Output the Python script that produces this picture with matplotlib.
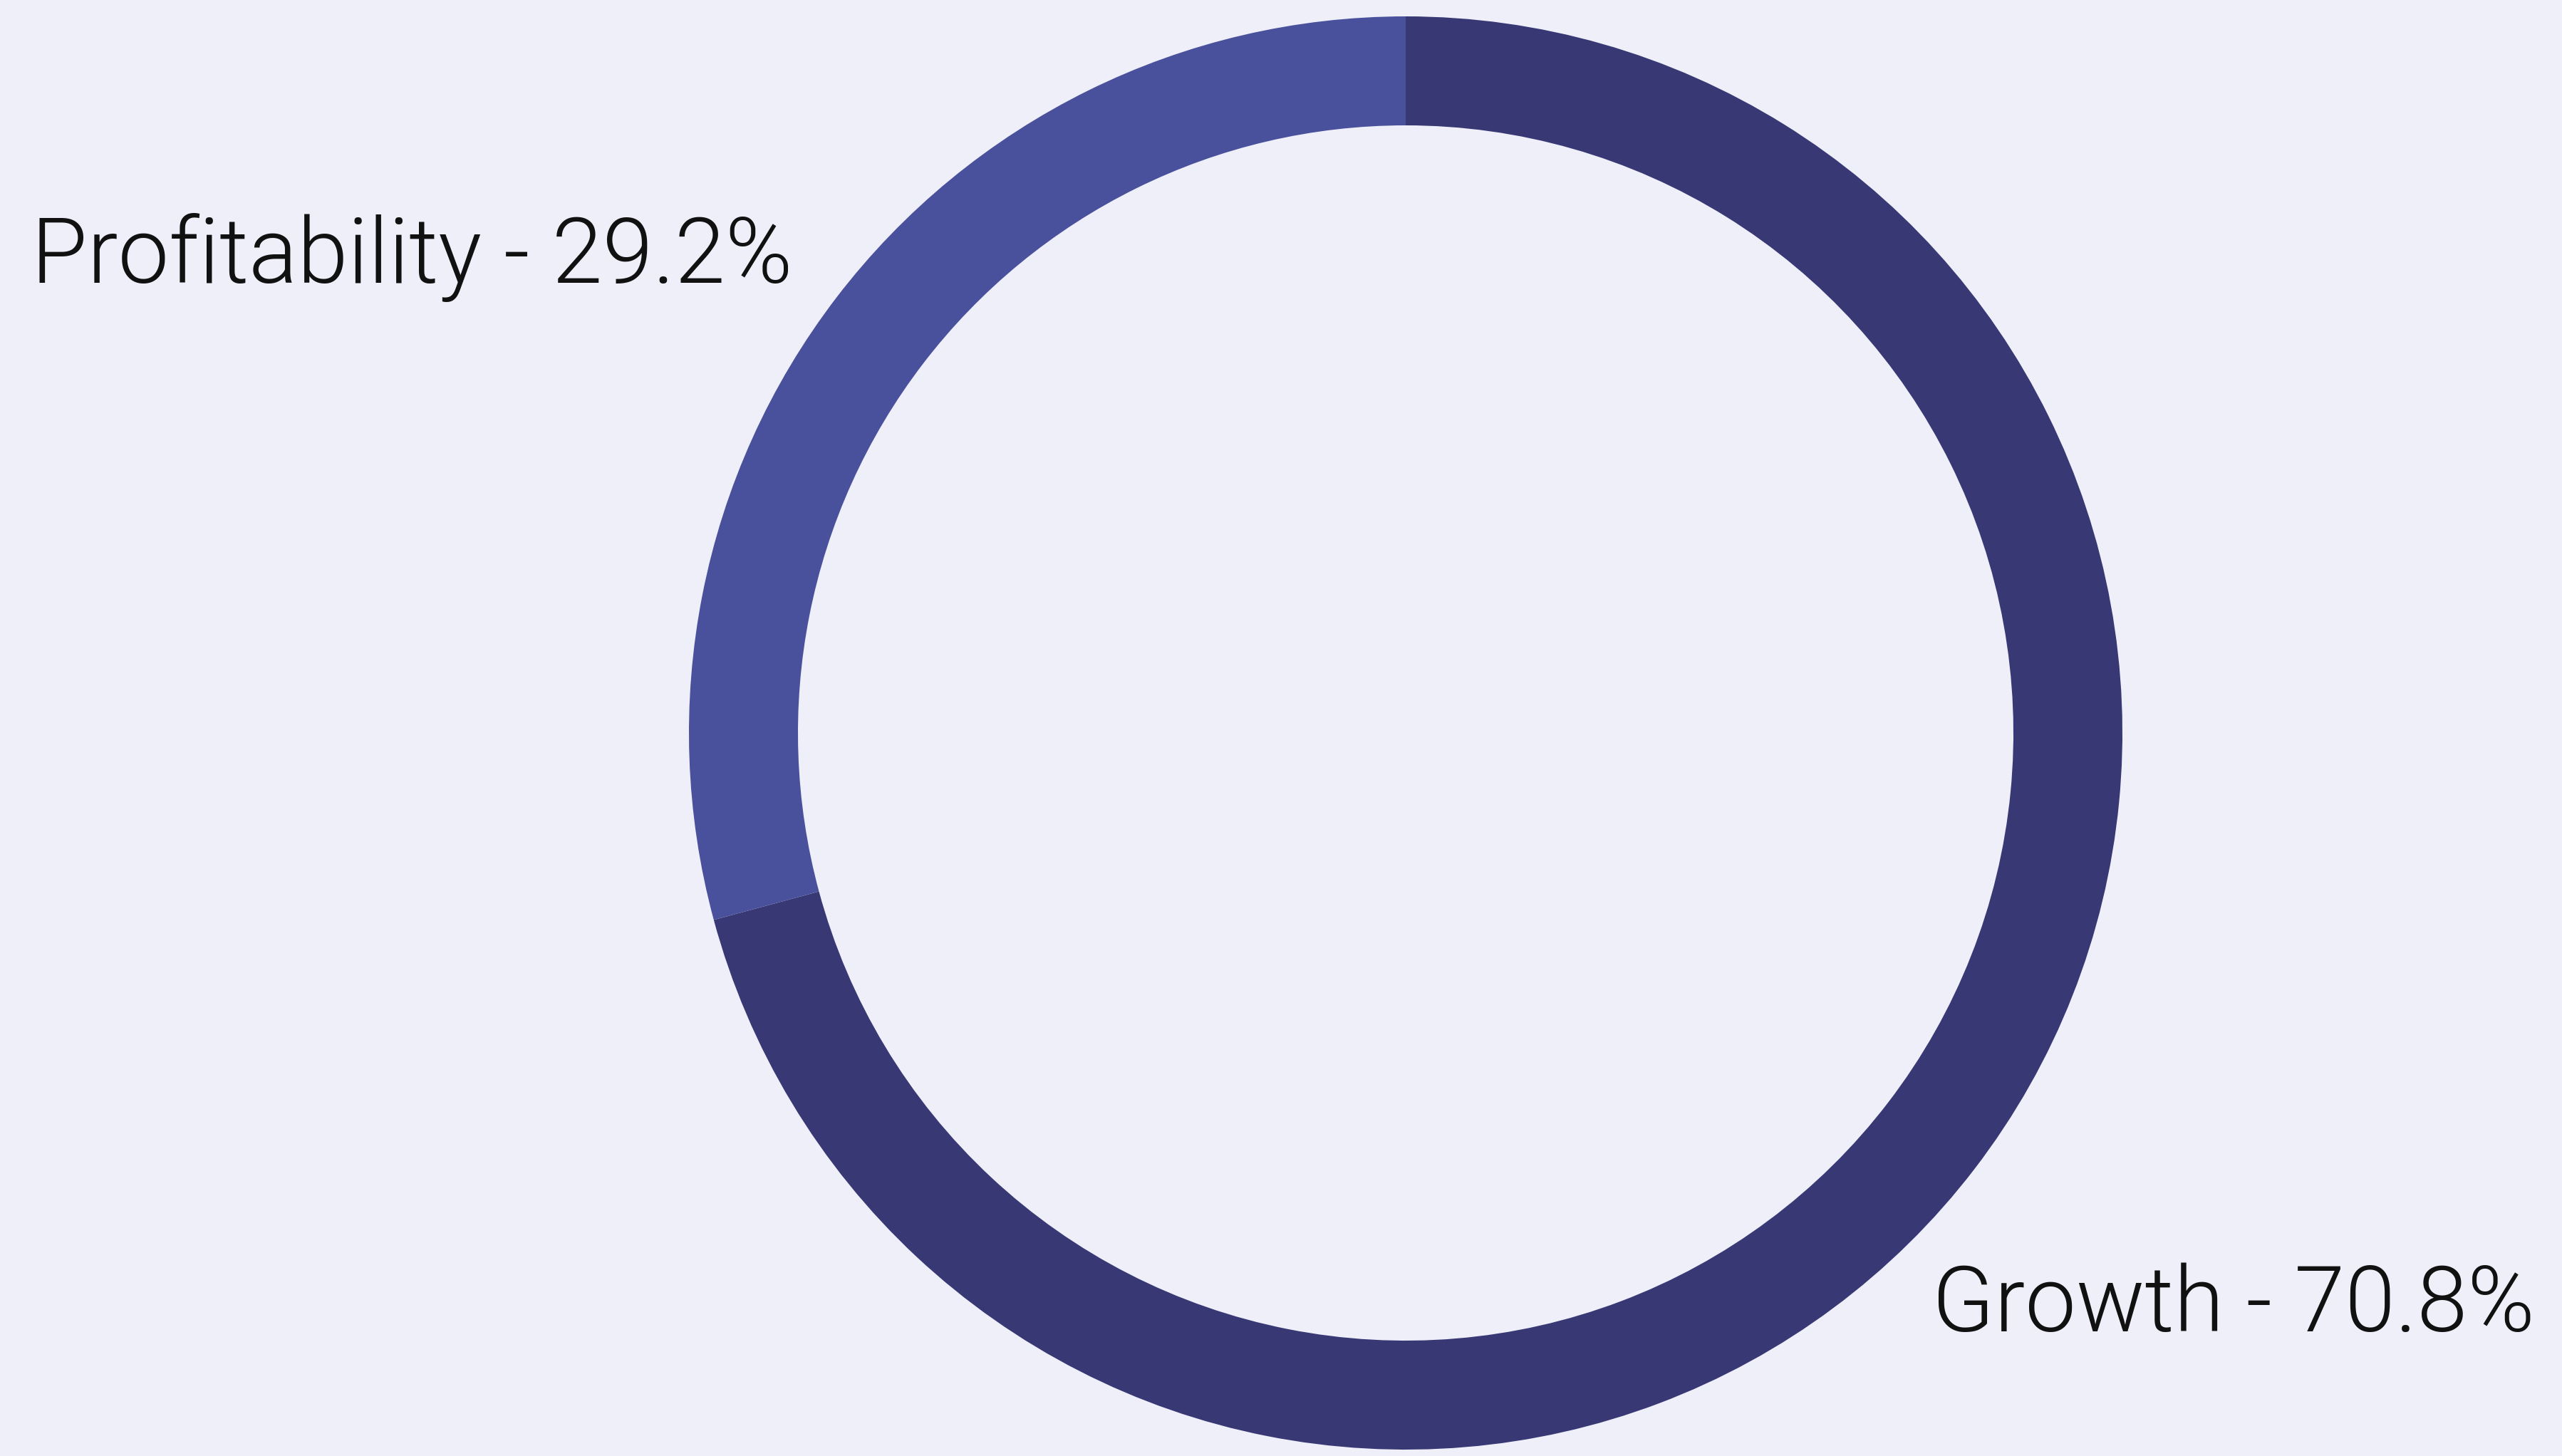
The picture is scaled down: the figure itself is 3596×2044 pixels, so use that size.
import os
import matplotlib
matplotlib.use("Agg")
import matplotlib.pyplot as plt
from matplotlib import font_manager as fm

# slice data
labels = ["Growth", "Profitability"]
shares = [70.8, 29.2]
colors = ["#383875", "#4a519c"]
bg = "#efeffa"

# thin label font (Roboto Light), fall back to a family lookup if missing
light = [f.fname for f in fm.fontManager.ttflist if os.path.basename(f.fname) == "Roboto-Light.ttf"]
fprop = fm.FontProperties(fname=light[0]) if light else fm.FontProperties(family="Roboto", weight=300)

W, H = 3596, 2044
fig = plt.figure(figsize=(W / 100, H / 100), dpi=100, facecolor=bg)
ax = fig.add_axes([0, 0, 1, 1])
ax.set_facecolor(bg)

# donut ring, starting at 12 o'clock going clockwise
ax.pie(shares, colors=colors, startangle=90, counterclock=False,
       radius=1006, center=(1973, H - 1029),
       wedgeprops=dict(width=153, linewidth=0))

ax.set_xlim(0, W)
ax.set_ylim(0, H)
ax.set_aspect("equal")
ax.axis("off")

# labels
txt = dict(fontproperties=fprop, fontsize=92, color="#111111",
           ha="left", va="baseline")
ax.text(44, H - 397, f"{labels[1]} - {shares[1]}%", **txt)
ax.text(2712, H - 1869, f"{labels[0]} - {shares[0]}%", **txt)

fig.savefig("out.png", dpi=100, facecolor=bg)
